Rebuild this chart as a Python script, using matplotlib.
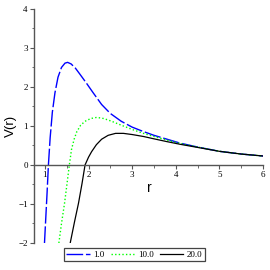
import numpy as np
import matplotlib
matplotlib.use("Agg")
import matplotlib.pyplot as plt
from matplotlib.ticker import MultipleLocator

# values
r_a = [0.99, 1.02, 1.05, 1.08, 1.12, 1.17, 1.23, 1.30, 1.38, 1.46, 1.52, 1.60,
       1.70, 1.80, 1.95, 2.10, 2.30, 2.50, 2.75, 3.00, 3.25, 3.50, 3.80, 4.10,
       4.50, 5.00, 5.50, 6.00]
v_a = [-2.0, -1.35, -0.7, 0.0, 0.7, 1.35, 1.85, 2.25, 2.50, 2.61, 2.63, 2.59,
       2.48, 2.33, 2.10, 1.86, 1.55, 1.32, 1.12, 0.97, 0.86, 0.76, 0.66, 0.56,
       0.46, 0.35, 0.28, 0.23]

r_b = [1.32, 1.38, 1.45, 1.51, 1.56, 1.61, 1.67, 1.73, 1.82, 1.92, 2.05, 2.19,
       2.35, 2.53, 2.75, 3.00, 3.26, 3.50, 3.79, 4.10, 4.50, 5.00, 5.50, 6.00]
v_b = [-2.0, -1.5, -0.98, -0.45, 0.0, 0.40, 0.66, 0.85, 1.02, 1.12, 1.19, 1.22,
       1.19, 1.12, 1.02, 0.91, 0.81, 0.73, 0.64, 0.55, 0.46, 0.35, 0.28, 0.23]

r_c = [1.58, 1.68, 1.77, 1.85, 1.92, 2.00, 2.07, 2.18, 2.30, 2.45, 2.62, 2.80,
       3.00, 3.26, 3.50, 3.79, 4.10, 4.50, 5.00, 5.50, 6.00]
v_c = [-2.0, -1.45, -0.98, -0.48, 0.0, 0.20, 0.34, 0.52, 0.66, 0.76, 0.81, 0.81,
       0.78, 0.73, 0.67, 0.60, 0.53, 0.45, 0.35, 0.28, 0.23]

labels = ["1.0", "10.0", "20.0"]

fig = plt.figure(figsize=(2.7, 2.7), dpi=100)
ax = fig.add_axes([0.126, 0.10, 0.848, 0.867])

ax.plot(r_a, v_a, color="#0000ff", lw=1.0, dashes=(12, 2), label=labels[0])
ax.plot(r_b, v_b, color="#00ff00", lw=1.0, dashes=(1, 1.6), label=labels[1])
ax.plot(r_c, v_c, color="black", lw=0.9, label=labels[2])

ax.set_xlim(0.75, 6)
ax.set_ylim(-2, 4)

# maple style axes: x axis through y=0
ax.spines["top"].set_visible(False)
ax.spines["right"].set_visible(False)
ax.spines["bottom"].set_position(("data", 0))
for s in ("left", "bottom"):
    ax.spines[s].set_color("#555555")
    ax.spines[s].set_linewidth(1.0)

ax.xaxis.set_major_locator(MultipleLocator(1))
ax.xaxis.set_minor_locator(MultipleLocator(0.5))
ax.yaxis.set_major_locator(MultipleLocator(1))
ax.yaxis.set_minor_locator(MultipleLocator(0.5))
ax.tick_params(which="major", length=3, width=0.8, color="#555555", pad=1.5,
               labelsize=6.5)
ax.tick_params(which="minor", length=1.8, width=0.6, color="#555555")
for t in ax.get_xticklabels() + ax.get_yticklabels():
    t.set_fontfamily("Liberation Serif")

ax.set_xlabel("r", family="Liberation Sans", fontsize=10)
ax.xaxis.set_label_coords(0.502, 0.265)
ax.set_ylabel("V(r)", family="Liberation Sans", fontsize=9.5)
ax.yaxis.set_label_coords(-0.075, 0.5)

leg = fig.legend(loc="center", bbox_to_anchor=(0.498, 0.056), ncol=3,
                 prop={"family": "Liberation Serif", "size": 6.5},
                 fancybox=False, edgecolor="#444444", framealpha=1,
                 handlelength=2.6, handletextpad=0.4, columnspacing=0.7,
                 borderpad=0.25, borderaxespad=0)
leg.get_frame().set_linewidth(0.9)

fig.savefig("out.png", dpi=100)
